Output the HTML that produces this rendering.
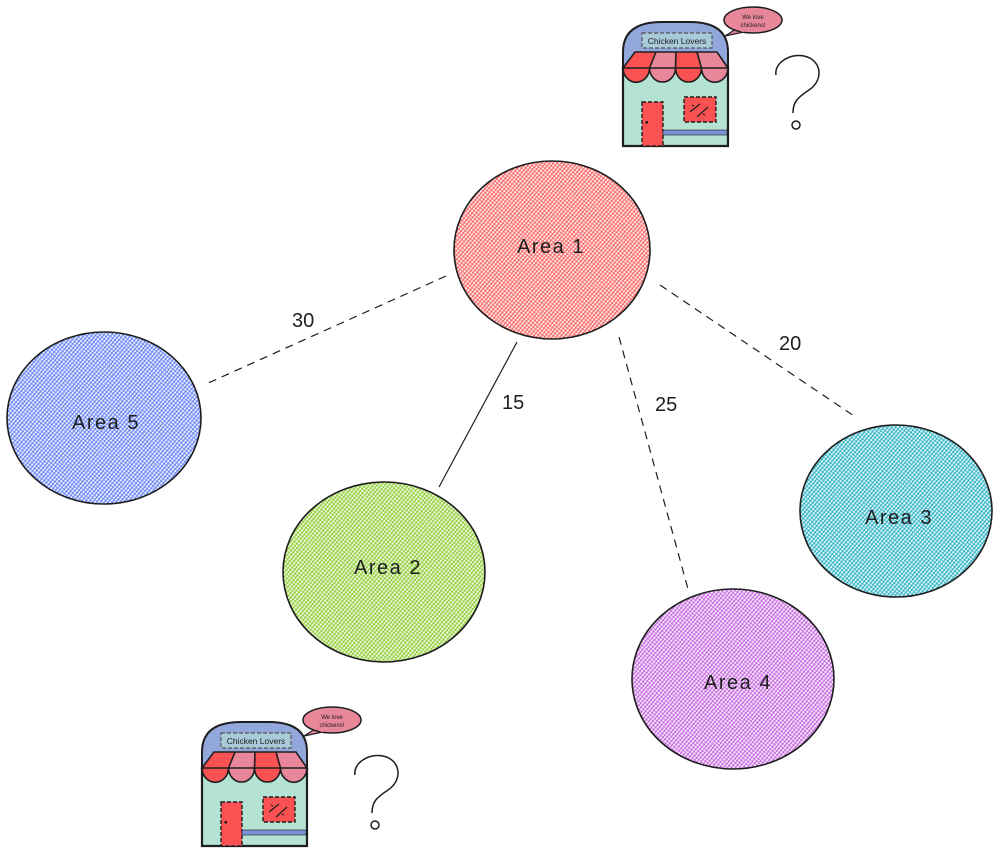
<!DOCTYPE html>
<html>
<head>
<meta charset="utf-8">
<style>
  html,body{margin:0;padding:0;background:#fff;}
  svg{display:block;}
  .lbl{font-family:"Liberation Sans","DejaVu Sans",sans-serif;fill:#1e1e1e;}
</style>
</head>
<body>
<svg width="1000" height="853" viewBox="0 0 1000 853" xmlns="http://www.w3.org/2000/svg">
  <defs>
    <pattern id="hR" width="3" height="3" patternUnits="userSpaceOnUse" patternTransform="rotate(40)">
      <rect width="3" height="3" fill="#fff"/>
      <rect width="1.4" height="3" fill="#fa5252" opacity="0.75"/>
      <rect width="3" height="1.4" fill="#fa5252" opacity="0.55"/>
    </pattern>
    <pattern id="hB" width="3" height="3" patternUnits="userSpaceOnUse" patternTransform="rotate(40)">
      <rect width="3" height="3" fill="#fff"/>
      <rect width="1.4" height="3" fill="#4c6ef5" opacity="0.7"/>
      <rect width="3" height="1.4" fill="#4c6ef5" opacity="0.5"/>
    </pattern>
    <pattern id="hG" width="3" height="3" patternUnits="userSpaceOnUse" patternTransform="rotate(40)">
      <rect width="3" height="3" fill="#fff"/>
      <rect width="1.4" height="3" fill="#82c91e" opacity="0.75"/>
      <rect width="3" height="1.4" fill="#82c91e" opacity="0.55"/>
    </pattern>
    <pattern id="hC" width="3" height="3" patternUnits="userSpaceOnUse" patternTransform="rotate(40)">
      <rect width="3" height="3" fill="#fff"/>
      <rect width="1.4" height="3" fill="#15aabf" opacity="0.75"/>
      <rect width="3" height="1.4" fill="#15aabf" opacity="0.55"/>
    </pattern>
    <pattern id="hP" width="3" height="3" patternUnits="userSpaceOnUse" patternTransform="rotate(40)">
      <rect width="3" height="3" fill="#fff"/>
      <rect width="1.4" height="3" fill="#be4bdb" opacity="0.7"/>
      <rect width="3" height="1.4" fill="#be4bdb" opacity="0.5"/>
    </pattern>
  </defs>

  <!-- connectors -->
  <g stroke="#1e1e1e" stroke-width="1.2" fill="none">
    <line x1="446" y1="276" x2="206" y2="384" stroke-dasharray="8 6"/>
    <line x1="517" y1="342" x2="439" y2="487"/>
    <line x1="619" y1="337" x2="688" y2="589" stroke-dasharray="8 6"/>
    <line x1="660" y1="285" x2="857" y2="418" stroke-dasharray="8 6"/>
  </g>
  <g class="lbl" font-size="20">
    <text x="292" y="327">30</text>
    <text x="502" y="409">15</text>
    <text x="655" y="411">25</text>
    <text x="779" y="350">20</text>
  </g>

  <!-- circles -->
  <g stroke="#1e1e1e" stroke-width="1.6">
    <ellipse cx="552" cy="250" rx="98" ry="89" fill="url(#hR)"/>
    <ellipse cx="104" cy="418" rx="97" ry="86" fill="url(#hB)"/>
    <ellipse cx="384" cy="572" rx="101" ry="90" fill="url(#hG)"/>
    <ellipse cx="896" cy="511" rx="96" ry="86" fill="url(#hC)"/>
    <ellipse cx="733" cy="679" rx="101" ry="90" fill="url(#hP)"/>
  </g>
  <g class="lbl" font-size="20" letter-spacing="1.5" text-anchor="middle">
    <text x="551" y="253">Area 1</text>
    <text x="106" y="429">Area 5</text>
    <text x="388" y="574">Area 2</text>
    <text x="899" y="524">Area 3</text>
    <text x="738" y="689">Area 4</text>
  </g>

  <!-- top shop -->
  <g id="shop1">
    <rect x="623" y="66" width="105" height="80" fill="#b4e2d3"/>
    <path d="M623,68 L623,52 Q623,22 662,22 L690,22 Q728,22 728,52 L728,68 Z" fill="#92a8dc" stroke="#1e1e1e" stroke-width="2"/>
    <rect x="642" y="33" width="70" height="15" fill="#a9cbd9" stroke="#555" stroke-width="1.2" stroke-dasharray="4 2"/>
    <text x="677" y="44" font-family="Liberation Sans, sans-serif" font-size="8.5" text-anchor="middle" fill="#1e1e1e">Chicken Lovers</text>
    <!-- awning -->
    <path d="M635,52 L656,52 L649.5,68 L623,68 Z" fill="#fa5252"/>
    <path d="M656,52 L676,52 L675.5,68 L649.5,68 Z" fill="#e8879a"/>
    <path d="M676,52 L697,52 L701.5,68 L675.5,68 Z" fill="#fa5252"/>
    <path d="M697,52 L717,52 L728,68 L701.5,68 Z" fill="#e8879a"/>
    <path d="M623,68 A13,14 0 0 0 649.5,68 Z" fill="#fa5252"/>
    <path d="M649.5,68 A13,14 0 0 0 675.5,68 Z" fill="#e8879a"/>
    <path d="M675.5,68 A13,14 0 0 0 701.5,68 Z" fill="#fa5252"/>
    <path d="M701.5,68 A13,14 0 0 0 728,68 Z" fill="#e8879a"/>
    <g stroke="#1e1e1e" stroke-width="1.6" fill="none">
      <path d="M635,52 L717,52 L728,68 L623,68 Z"/>
      <path d="M656,52 L649.5,68 M676,52 L675.5,68 M697,52 L701.5,68"/>
      <path d="M623,68 A13,14 0 0 0 649.5,68 A13,14 0 0 0 675.5,68 A13,14 0 0 0 701.5,68 A13,14 0 0 0 728,68"/>
    </g>
    <!-- body outline -->
    <path d="M623,66 L623,146 L728,146 L728,66" fill="none" stroke="#1e1e1e" stroke-width="2.2"/>
    <!-- door -->
    <rect x="642" y="102" width="21" height="44" fill="#fa5252" stroke="#1e1e1e" stroke-width="1.4" stroke-dasharray="4 2"/>
    <rect x="645.5" y="121" width="2.5" height="2.5" fill="#1e1e1e"/>
    <!-- window -->
    <rect x="684" y="97" width="32" height="25" fill="#fa5252" stroke="#1e1e1e" stroke-width="1.4" stroke-dasharray="4 2"/>
    <path d="M690,112 L700,104 M697,117 L708,107 M692,105 L694,106 M703,114 L705,115" stroke="#1e1e1e" stroke-width="1.2"/>
    <!-- bar -->
    <rect x="663" y="130" width="64" height="5" fill="#7a93d6" stroke="#1e1e1e" stroke-width="0.6"/>
    <!-- bubble -->
    <path d="M736,29 L725,36 L744,32 Z" fill="#e8879a" stroke="#1e1e1e" stroke-width="1.2"/>
    <ellipse cx="753" cy="20" rx="29" ry="13" fill="#e8879a" stroke="#1e1e1e" stroke-width="1.5"/>
    <path d="M737,28 L744,31" stroke="#e8879a" stroke-width="3"/>
    <text x="753" y="19" font-family="Liberation Sans, sans-serif" font-size="6" text-anchor="middle" fill="#1e1e1e">We love</text>
    <text x="753" y="27" font-family="Liberation Sans, sans-serif" font-size="6" text-anchor="middle" fill="#1e1e1e">chickens!</text>
    <!-- question mark -->
    <path d="M776,75 C774,63 790,53 804,56 C822,60 824,80 809,90 C797,98 793,102 793,113" fill="none" stroke="#1e1e1e" stroke-width="1.5"/>
    <circle cx="796" cy="125" r="4" fill="none" stroke="#1e1e1e" stroke-width="1.5"/>
  </g>

  <!-- bottom shop -->
  <g transform="translate(-421,700)">
    <rect x="623" y="66" width="105" height="80" fill="#b4e2d3"/>
    <path d="M623,68 L623,52 Q623,22 662,22 L690,22 Q728,22 728,52 L728,68 Z" fill="#92a8dc" stroke="#1e1e1e" stroke-width="2"/>
    <rect x="642" y="33" width="70" height="15" fill="#a9cbd9" stroke="#555" stroke-width="1.2" stroke-dasharray="4 2"/>
    <text x="677" y="44" font-family="Liberation Sans, sans-serif" font-size="8.5" text-anchor="middle" fill="#1e1e1e">Chicken Lovers</text>
    <path d="M635,52 L656,52 L649.5,68 L623,68 Z" fill="#fa5252"/>
    <path d="M656,52 L676,52 L675.5,68 L649.5,68 Z" fill="#e8879a"/>
    <path d="M676,52 L697,52 L701.5,68 L675.5,68 Z" fill="#fa5252"/>
    <path d="M697,52 L717,52 L728,68 L701.5,68 Z" fill="#e8879a"/>
    <path d="M623,68 A13,14 0 0 0 649.5,68 Z" fill="#fa5252"/>
    <path d="M649.5,68 A13,14 0 0 0 675.5,68 Z" fill="#e8879a"/>
    <path d="M675.5,68 A13,14 0 0 0 701.5,68 Z" fill="#fa5252"/>
    <path d="M701.5,68 A13,14 0 0 0 728,68 Z" fill="#e8879a"/>
    <g stroke="#1e1e1e" stroke-width="1.6" fill="none">
      <path d="M635,52 L717,52 L728,68 L623,68 Z"/>
      <path d="M656,52 L649.5,68 M676,52 L675.5,68 M697,52 L701.5,68"/>
      <path d="M623,68 A13,14 0 0 0 649.5,68 A13,14 0 0 0 675.5,68 A13,14 0 0 0 701.5,68 A13,14 0 0 0 728,68"/>
    </g>
    <path d="M623,66 L623,146 L728,146 L728,66" fill="none" stroke="#1e1e1e" stroke-width="2.2"/>
    <rect x="642" y="102" width="21" height="44" fill="#fa5252" stroke="#1e1e1e" stroke-width="1.4" stroke-dasharray="4 2"/>
    <rect x="645.5" y="121" width="2.5" height="2.5" fill="#1e1e1e"/>
    <rect x="684" y="97" width="32" height="25" fill="#fa5252" stroke="#1e1e1e" stroke-width="1.4" stroke-dasharray="4 2"/>
    <path d="M690,112 L700,104 M697,117 L708,107 M692,105 L694,106 M703,114 L705,115" stroke="#1e1e1e" stroke-width="1.2"/>
    <rect x="663" y="130" width="64" height="5" fill="#7a93d6" stroke="#1e1e1e" stroke-width="0.6"/>
    <path d="M736,29 L725,36 L744,32 Z" fill="#e8879a" stroke="#1e1e1e" stroke-width="1.2"/>
    <ellipse cx="753" cy="20" rx="29" ry="13" fill="#e8879a" stroke="#1e1e1e" stroke-width="1.5"/>
    <path d="M737,28 L744,31" stroke="#e8879a" stroke-width="3"/>
    <text x="753" y="19" font-family="Liberation Sans, sans-serif" font-size="6" text-anchor="middle" fill="#1e1e1e">We love</text>
    <text x="753" y="27" font-family="Liberation Sans, sans-serif" font-size="6" text-anchor="middle" fill="#1e1e1e">chickens!</text>
    <path d="M776,75 C774,63 790,53 804,56 C822,60 824,80 809,90 C797,98 793,102 793,113" fill="none" stroke="#1e1e1e" stroke-width="1.5"/>
    <circle cx="796" cy="125" r="4" fill="none" stroke="#1e1e1e" stroke-width="1.5"/>
  </g>
</svg>
</body>
</html>
